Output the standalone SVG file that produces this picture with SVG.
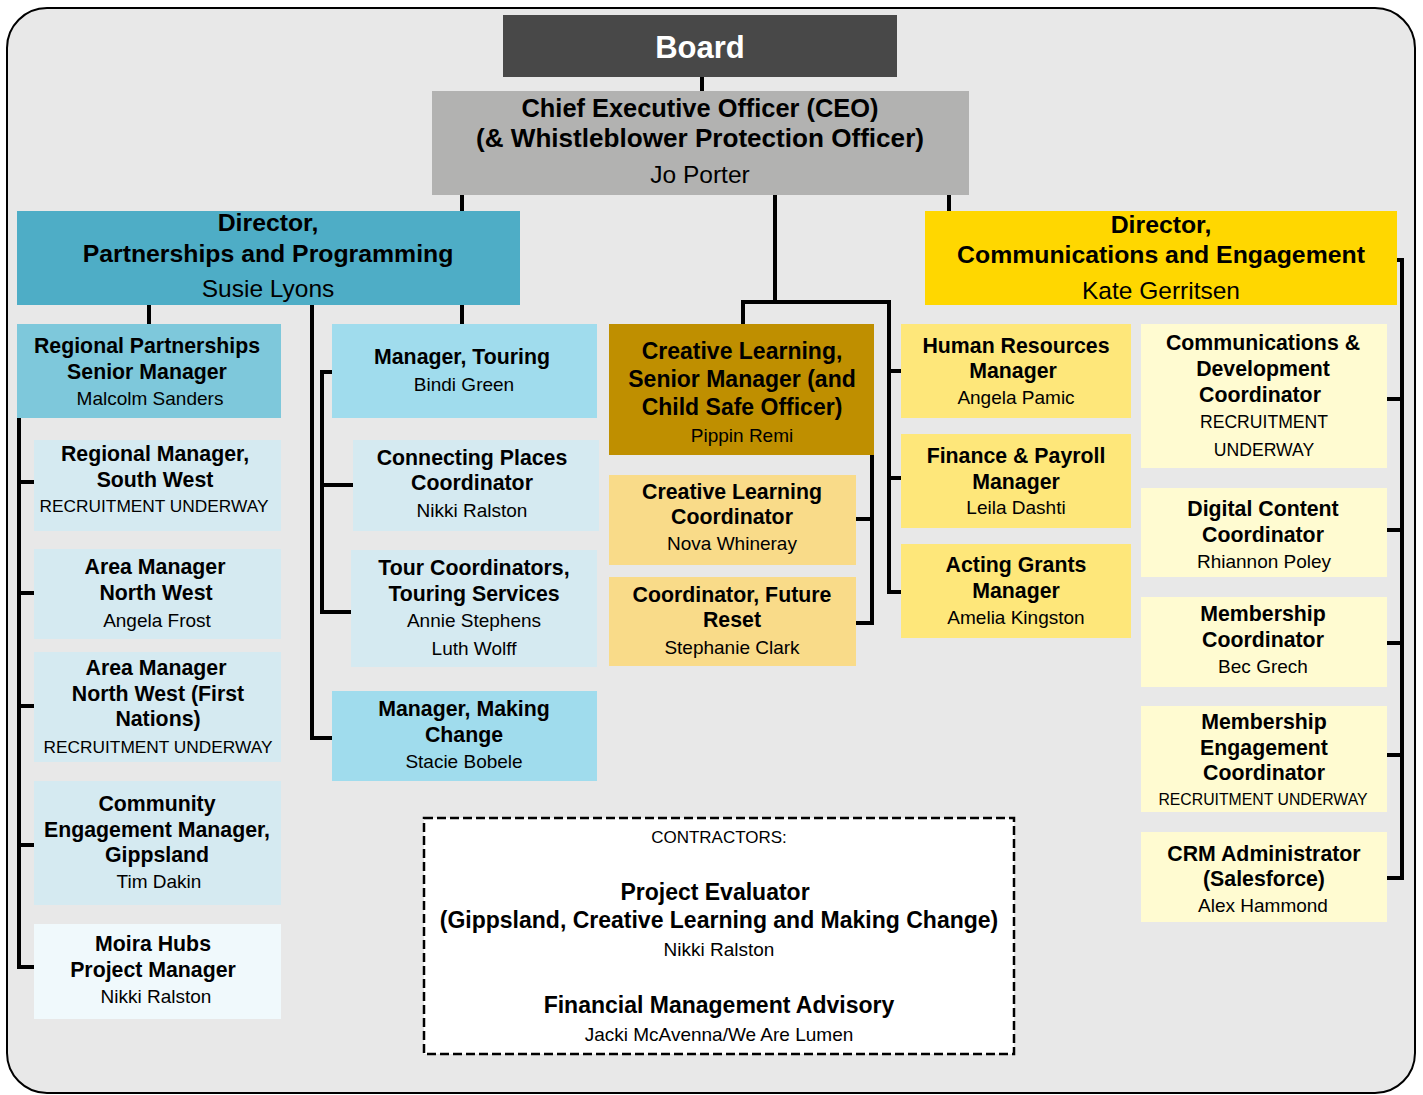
<svg xmlns="http://www.w3.org/2000/svg" width="1423" height="1095" viewBox="0 0 1423 1095">
<style>
text{font-family:"Liberation Sans",Arial,sans-serif;text-anchor:middle;fill:#000}
.b{font-weight:bold;font-size:21.3px}
.r{font-size:19px}
.bl{font-weight:bold;font-size:24.8px}
.rl{font-size:24.5px}
.bm{font-weight:bold;font-size:23px}
.ru{font-size:17.3px}
.conn path{fill:none;stroke:#000;stroke-width:4;stroke-linecap:square;stroke-linejoin:miter}
</style>
<rect x="7" y="8" width="1408" height="1085" rx="40" fill="#e8e8e8" stroke="#000" stroke-width="2"/>
<g class="conn" id="connectors">
<path d="M702,77 V91"/>
<path d="M462,195 V211"/>
<path d="M949,195 V211"/>
<path d="M775,195 V302"/>
<path d="M743,324 V302 H889 V592 H901"/>
<path d="M889,371 H901"/>
<path d="M889,478 H901"/>
<path d="M1397,260 H1402 V878 H1387"/>
<path d="M1387,399 H1402"/>
<path d="M1387,530 H1402"/>
<path d="M1387,643 H1402"/>
<path d="M1387,755 H1402"/>
<path d="M149,305 V324"/>
<path d="M312,305 V738 H332"/>
<path d="M462,305 V324"/>
<path d="M332,372 H322 V612 H351"/>
<path d="M322,485 H353"/>
<path d="M19,418 V967 H34"/>
<path d="M19,482 H34"/>
<path d="M19,593 H34"/>
<path d="M19,706 H34"/>
<path d="M19,845 H34"/>
<path d="M872,455 V623 H856"/>
<path d="M856,519 H872"/>
</g>
<g id="board"><rect x="503" y="15" width="394" height="62" fill="#484848"/><text x="700" y="58" style="font-weight:bold;font-size:31px;fill:#fff">Board</text></g>
<g id="ceo"><rect x="432" y="91" width="537" height="104" fill="#b2b2b1"/>
<text x="700" y="117" class="bl" style="font-size:25.4px">Chief Executive Officer (CEO)</text>
<text x="700" y="147" class="bl" style="font-size:26.1px">(&amp; Whistleblower Protection Officer)</text>
<text x="700" y="183" class="rl">Jo Porter</text></g>
<g id="dir-pp"><rect x="17" y="211" width="503" height="94" fill="#4eadc6"/>
<text x="268" y="231" class="bl">Director,</text>
<text x="268" y="262" class="bl">Partnerships and Programming</text>
<text x="268" y="297" class="rl">Susie Lyons</text></g>
<g id="dir-ce"><rect x="925" y="211" width="472" height="94" fill="#ffd700"/>
<text x="1161" y="233" class="bl">Director,</text>
<text x="1161" y="263" class="bl">Communications and Engagement</text>
<text x="1161" y="299" class="rl">Kate Gerritsen</text></g>
<g id="reg-partnerships"><rect x="17" y="324" width="264" height="94" fill="#7ec8db"/>
<text x="147" y="353" class="b">Regional Partnerships</text>
<text x="147" y="379" class="b">Senior Manager</text>
<text x="150" y="405" class="r">Malcolm Sanders</text></g>
<g id="south-west"><rect x="34" y="440" width="247" height="91" fill="#d5eaf1"/>
<text x="155" y="461" class="b">Regional Manager,</text>
<text x="155" y="487" class="b">South West</text>
<text x="154" y="512" class="ru">RECRUITMENT UNDERWAY</text></g>
<g id="area-nw"><rect x="34" y="549" width="247" height="90" fill="#d5eaf1"/>
<text x="155" y="574" class="b">Area Manager</text>
<text x="156" y="600" class="b">North West</text>
<text x="157" y="627" class="r">Angela Frost</text></g>
<g id="area-nw-fn"><rect x="34" y="652" width="247" height="110" fill="#d5eaf1"/>
<text x="156" y="675" class="b">Area Manager</text>
<text x="158" y="701" class="b">North West (First</text>
<text x="158" y="726" class="b">Nations)</text>
<text x="158" y="753" class="ru">RECRUITMENT UNDERWAY</text></g>
<g id="community"><rect x="34" y="781" width="247" height="124" fill="#d5eaf1"/>
<text x="157" y="811" class="b">Community</text>
<text x="157" y="837" class="b">Engagement Manager,</text>
<text x="157" y="862" class="b">Gippsland</text>
<text x="159" y="888" class="r">Tim Dakin</text></g>
<g id="moira"><rect x="34" y="924" width="247" height="95" fill="#f0f9fc"/>
<text x="153" y="951" class="b">Moira Hubs</text>
<text x="153" y="977" class="b">Project Manager</text>
<text x="156" y="1003" class="r">Nikki Ralston</text></g>
<g id="mgr-touring"><rect x="332" y="324" width="265" height="94" fill="#a0dced"/>
<text x="462" y="364" class="b">Manager, Touring</text>
<text x="464" y="391" class="r">Bindi Green</text></g>
<g id="connecting-places"><rect x="353" y="440" width="246" height="91" fill="#d5eaf1"/>
<text x="472" y="465" class="b">Connecting Places</text>
<text x="472" y="490" class="b">Coordinator</text>
<text x="472" y="517" class="r">Nikki Ralston</text></g>
<g id="tour-coords"><rect x="351" y="550" width="246" height="117" fill="#d5eaf1"/>
<text x="474" y="575" class="b">Tour Coordinators,</text>
<text x="474" y="601" class="b">Touring Services</text>
<text x="474" y="627" class="r">Annie Stephens</text>
<text x="474" y="655" class="r">Luth Wolff</text></g>
<g id="making-change"><rect x="332" y="691" width="265" height="90" fill="#a0dced"/>
<text x="464" y="716" class="b">Manager, Making</text>
<text x="464" y="742" class="b">Change</text>
<text x="464" y="768" class="r">Stacie Bobele</text></g>
<g id="cl-senior"><rect x="609" y="324" width="265" height="131" fill="#bf8f00"/>
<text x="742" y="359" class="bm">Creative Learning,</text>
<text x="742" y="387" class="bm">Senior Manager (and</text>
<text x="742" y="415" class="bm">Child Safe Officer)</text>
<text x="742" y="442" class="r">Pippin Remi</text></g>
<g id="cl-coord"><rect x="609" y="475" width="247" height="90" fill="#f9db89"/>
<text x="732" y="499" class="b">Creative Learning</text>
<text x="732" y="524" class="b">Coordinator</text>
<text x="732" y="550" class="r">Nova Whineray</text></g>
<g id="future-reset"><rect x="609" y="577" width="247" height="89" fill="#f9db89"/>
<text x="732" y="602" class="b">Coordinator, Future</text>
<text x="732" y="627" class="b">Reset</text>
<text x="732" y="654" class="r">Stephanie Clark</text></g>
<g id="hr"><rect x="901" y="324" width="230" height="94" fill="#fee77a"/>
<text x="1016" y="353" class="b">Human Resources</text>
<text x="1013" y="378" class="b">Manager</text>
<text x="1016" y="404" class="r">Angela Pamic</text></g>
<g id="finance"><rect x="901" y="434" width="230" height="94" fill="#fee77a"/>
<text x="1016" y="463" class="b">Finance &amp; Payroll</text>
<text x="1016" y="489" class="b">Manager</text>
<text x="1016" y="514" class="r">Leila Dashti</text></g>
<g id="grants"><rect x="901" y="544" width="230" height="94" fill="#fee77a"/>
<text x="1016" y="572" class="b">Acting Grants</text>
<text x="1016" y="598" class="b">Manager</text>
<text x="1016" y="624" class="r">Amelia Kingston</text></g>
<g id="comm-dev"><rect x="1141" y="324" width="246" height="144" fill="#fffbd1"/>
<text x="1263" y="350" class="b">Communications &amp;</text>
<text x="1263" y="376" class="b">Development</text>
<text x="1260" y="402" class="b">Coordinator</text>
<text x="1264" y="428" class="ru" style="font-size:17.6px">RECRUITMENT</text>
<text x="1264" y="456" class="ru" style="font-size:17.6px">UNDERWAY</text></g>
<g id="digital"><rect x="1141" y="488" width="246" height="89" fill="#fffbd1"/>
<text x="1263" y="516" class="b">Digital Content</text>
<text x="1263" y="542" class="b">Coordinator</text>
<text x="1264" y="568" class="r">Rhiannon Poley</text></g>
<g id="membership"><rect x="1141" y="597" width="246" height="90" fill="#fffbd1"/>
<text x="1263" y="621" class="b">Membership</text>
<text x="1263" y="647" class="b">Coordinator</text>
<text x="1263" y="673" class="r">Bec Grech</text></g>
<g id="membership-eng"><rect x="1141" y="706" width="246" height="106" fill="#fffbd1"/>
<text x="1264" y="729" class="b">Membership</text>
<text x="1264" y="755" class="b">Engagement</text>
<text x="1264" y="780" class="b">Coordinator</text>
<text x="1263" y="805" class="ru" style="font-size:15.8px">RECRUITMENT UNDERWAY</text></g>
<g id="crm"><rect x="1141" y="832" width="246" height="90" fill="#fffbd1"/>
<text x="1264" y="861" class="b">CRM Administrator</text>
<text x="1264" y="886" class="b">(Salesforce)</text>
<text x="1263" y="912" class="r">Alex Hammond</text></g>
<g id="contractors"><rect x="424" y="818" width="590" height="236" fill="#fff" stroke="#000" stroke-width="2.5" stroke-dasharray="9,4"/>
<text x="719" y="843" style="font-size:17px">CONTRACTORS:</text>
<text x="715" y="900" class="bm">Project Evaluator</text>
<text x="719" y="928" class="bm">(Gippsland, Creative Learning and Making Change)</text>
<text x="719" y="956" class="r">Nikki Ralston</text>
<text x="719" y="1013" class="bm">Financial Management Advisory</text>
<text x="719" y="1041" class="r">Jacki McAvenna/We Are Lumen</text></g>
</svg>
